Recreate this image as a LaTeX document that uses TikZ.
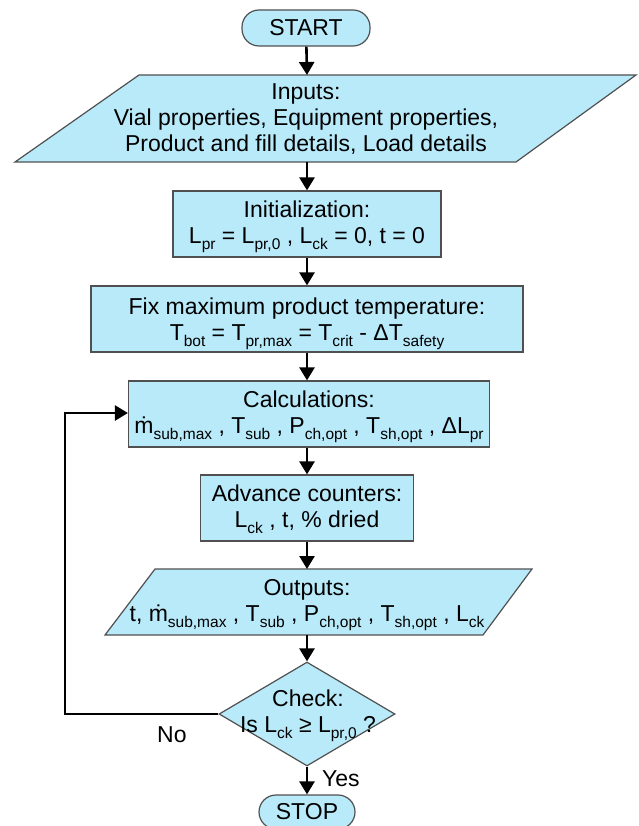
\documentclass[tikz,border=0pt]{standalone}
\usepackage{fontspec}
\setmainfont{Liberation Sans}
\usetikzlibrary{arrows.meta,shapes.geometric}
\definecolor{boxfill}{RGB}{184,234,250}
\definecolor{boxline}{RGB}{80,80,80}
\newcommand{\lsub}[1]{\raisebox{-6pt}[0pt][0pt]{\fontsize{15.5}{15.5}\selectfont #1}}
\begin{document}
\begin{tikzpicture}[x=1pt,y=-1pt,
  every node/.style={font=\fontsize{23}{26}\selectfont, align=center, inner sep=0pt},
  box/.style={draw=boxline, fill=boxfill, line width=1.2pt},
  rbox/.style={box, rectangle, minimum height=66pt},
  term/.style={box, rectangle, rounded corners=17pt},
  flow/.style={line width=2.6pt, -{Triangle[length=13pt,width=15pt]}}]
\useasboundingbox (0,0) rectangle (638,826);

% START
\node[term, minimum width=128pt, minimum height=36pt] (start) at (306,28) {START};

% Inputs parallelogram
\path[box] (139,75) -- (636,75) -- (516,162) -- (15,162) -- cycle;
\node (inp) at (306,119) {Inputs:\\Vial properties, Equipment properties,\\Product and fill details, Load details};
\coordinate (inpN) at (307,75);
\coordinate (inpS) at (307,162);

% Initialization
\node[rbox, minimum width=268pt] (init) at (307,224)
  {Initialization:\\L\lsub{pr} = L\lsub{pr,0} , L\lsub{ck} = 0, t = 0};

% Fix
\node[rbox, minimum width=432pt] (fix) at (307,319)
  {Fix maximum product temperature:\\T\lsub{bot} = T\lsub{pr,max} = T\lsub{crit} - ΔT\lsub{safety}};

% Calculations
\node[rbox, minimum width=361pt] (calc) at (309,414)
  {Calculations:\\ṁ\lsub{sub,max} , T\lsub{sub} , P\lsub{ch,opt} , T\lsub{sh,opt} , ΔL\lsub{pr}};

% Advance
\node[rbox, minimum width=213pt] (adv) at (307,508)
  {Advance counters:\\L\lsub{ck} , t, \% dried};

% Outputs parallelogram
\path[box] (155,569) -- (532,569) -- (483,635) -- (105,635) -- cycle;
\node (out) at (307,602) {Outputs:\\t, ṁ\lsub{sub,max} , T\lsub{sub} , P\lsub{ch,opt} , T\lsub{sh,opt} , L\lsub{ck}};
\coordinate (outN) at (307,569);
\coordinate (outS) at (307,635);

% Check diamond
\node[box, diamond, minimum width=176pt, minimum height=104pt] (chk) at (307,714) {};
\node (chkt) at (308,711) {Check:\\Is L\lsub{ck} ≥ L\lsub{pr,0} ?};

% STOP
\node[term, minimum width=96pt, minimum height=34pt] (stop) at (307,812) {STOP};

% labels
\node[anchor=base west] (no) at (157,742) {No};
\node[anchor=base west] (yes) at (322,786) {Yes};

% connectors
\coordinate (lp) at (65,413);
\draw[flow] (start) -- (inpN);
\draw[flow] (inpS) -- (init);
\draw[flow] (init) -- (fix);
\draw[flow] (fix.south) -- (fix.south |- calc.north);
\draw[flow] (calc.south -| adv.north) -- (adv.north);
\draw[flow] (adv) -- (outN);
\draw[flow] (outS) -- (chk.north);
\draw[flow] (chk.south) -- (stop);
\draw[flow] (chk.west) -| (lp) -- (lp -| calc.west);
\end{tikzpicture}
\end{document}
